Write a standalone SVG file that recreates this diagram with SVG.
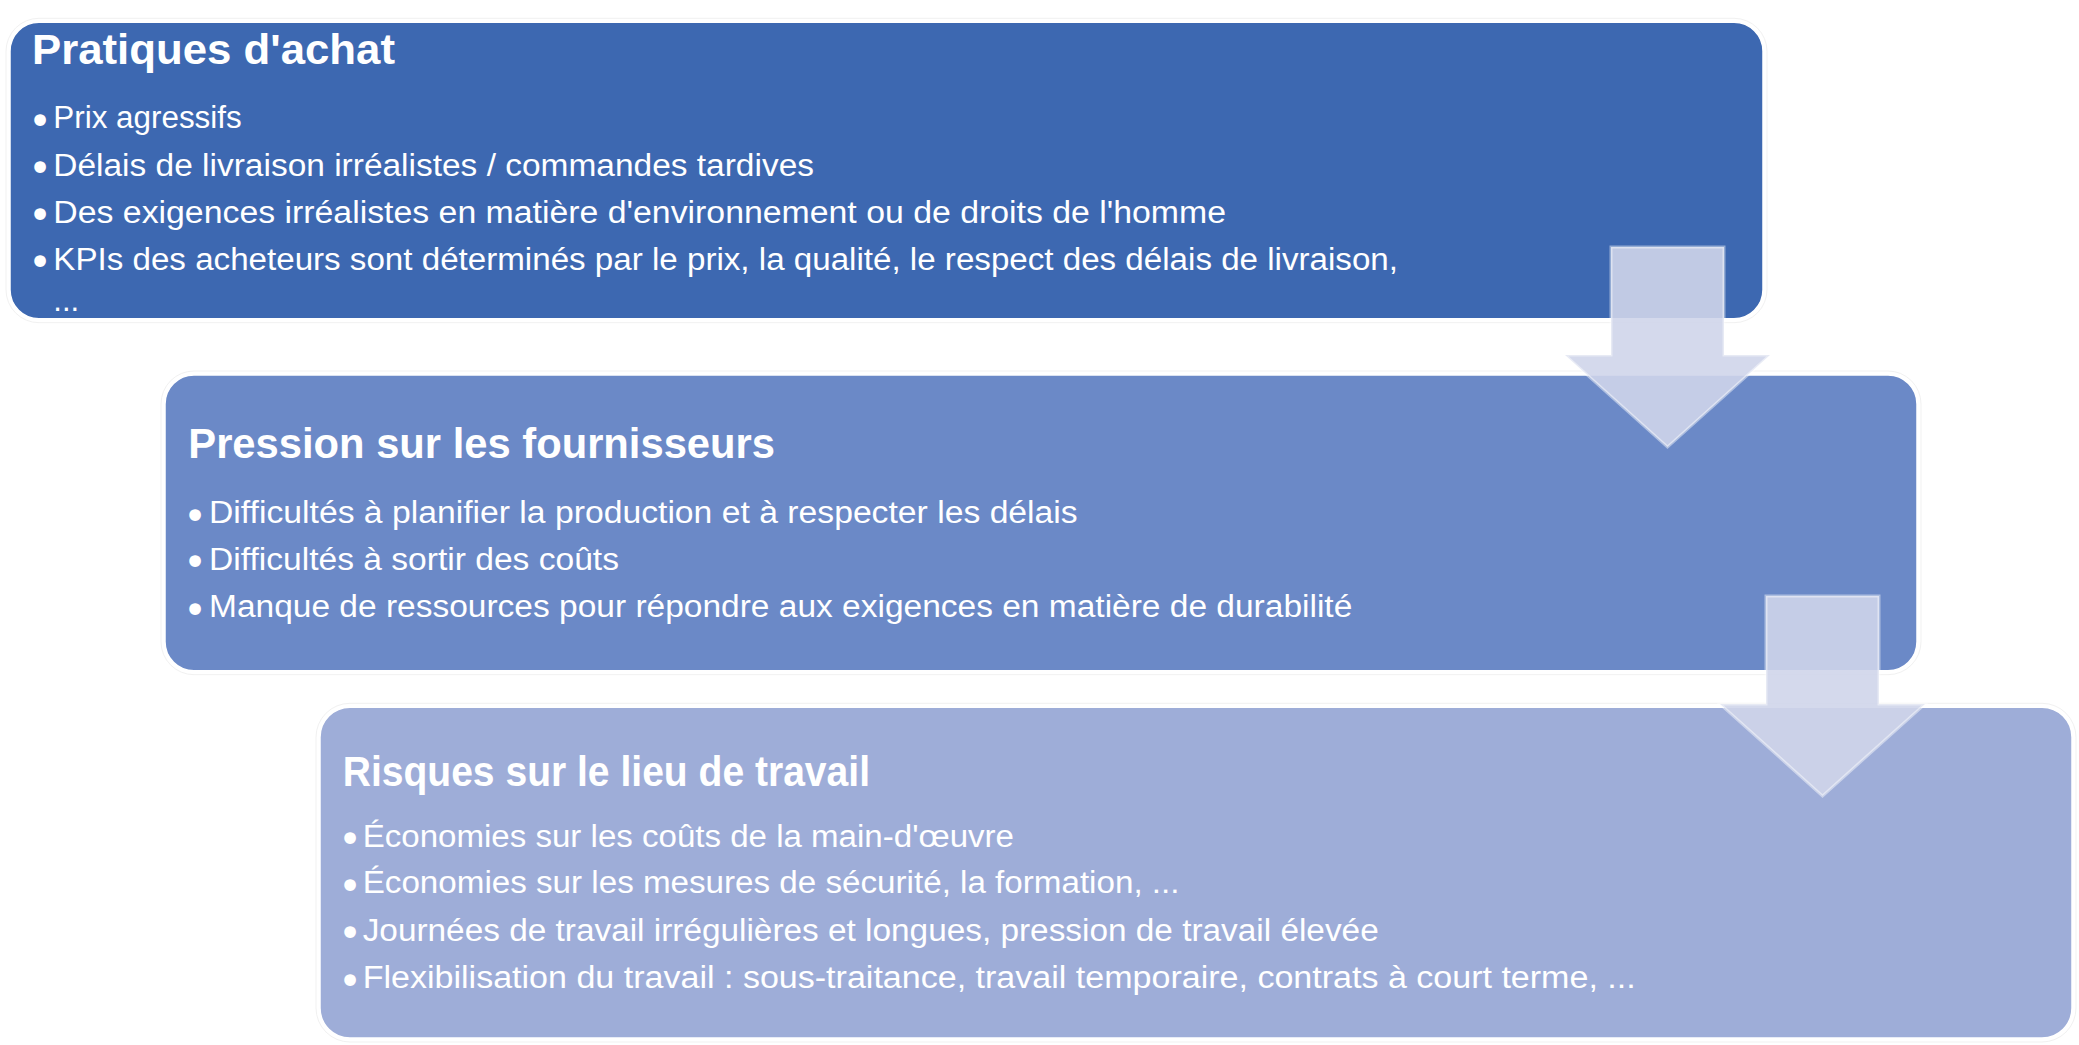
<svg xmlns="http://www.w3.org/2000/svg" width="2079" height="1045" viewBox="0 0 2079 1045">
<style>
.ring{fill:none;stroke:#f1f1f1;stroke-width:1}
.box{stroke:#ffffff;stroke-width:1.5}
.b1{fill:#3D68B1}
.b2{fill:#6B89C7}
.b3{fill:#9EADD8}
.title{font-family:"Liberation Sans",Arial,sans-serif;font-weight:bold;font-size:43px;fill:#ffffff}
.item{font-family:"Liberation Sans",Arial,sans-serif;font-size:31px;fill:#ffffff}
.dot{font-family:"DejaVu Sans",sans-serif;font-size:40px;fill:#ffffff}
.arrow{fill:#CFD5EA;fill-opacity:0.9;stroke:#ffffff;stroke-opacity:0.45;stroke-width:3;stroke-linejoin:miter}
</style>
<defs>
<path id="arrowShape" d="M-56.5,0 H56.5 V108 H102.5 L0,200 L-102.5,108 H-56.5 Z"/>
</defs>
<rect width="2079" height="1045" fill="#ffffff"/>

<g id="node-pratiques">
<rect class="ring" x="6" y="18.3" width="1761" height="304.4" rx="33"/>
<rect class="box b1" x="10" y="22.3" width="1753" height="296.4" rx="29"/>
<text class="title" x="32" y="64.3" textLength="363" lengthAdjust="spacingAndGlyphs">Pratiques d'achat</text>
<text class="dot" x="28.2" y="134.7">•</text>
<text class="item" x="53.3" y="128.3" textLength="188.4" lengthAdjust="spacingAndGlyphs">Prix agressifs</text>
<text class="dot" x="28.2" y="182.4">•</text>
<text class="item" x="53.3" y="176" textLength="760.7" lengthAdjust="spacingAndGlyphs">Délais de livraison irréalistes / commandes tardives</text>
<text class="dot" x="28.2" y="229.1">•</text>
<text class="item" x="53.3" y="222.7" textLength="1172.7" lengthAdjust="spacingAndGlyphs">Des exigences irréalistes en matière d'environnement ou de droits de l'homme</text>
<text class="dot" x="28.2" y="276.4">•</text>
<text class="item" x="53.3" y="270" textLength="1344.7" lengthAdjust="spacingAndGlyphs">KPIs des acheteurs sont déterminés par le prix, la qualité, le respect des délais de livraison,</text>
<text class="item" x="53.3" y="311">...</text>
</g>

<g id="node-pression">
<rect class="ring" x="161" y="371" width="1760" height="303.7" rx="33"/>
<rect class="box b2" x="165" y="375" width="1752" height="295.7" rx="29"/>
<text class="title" x="188.3" y="458.3" textLength="586.7" lengthAdjust="spacingAndGlyphs">Pression sur les fournisseurs</text>
<text class="dot" x="183.2" y="529.7">•</text>
<text class="item" x="209" y="523.3" textLength="868.7" lengthAdjust="spacingAndGlyphs">Difficultés à planifier la production et à respecter les délais</text>
<text class="dot" x="183.2" y="576.4">•</text>
<text class="item" x="209" y="570" textLength="410" lengthAdjust="spacingAndGlyphs">Difficultés à sortir des coûts</text>
<text class="dot" x="183.2" y="623.7">•</text>
<text class="item" x="209" y="617.3" textLength="1143.3" lengthAdjust="spacingAndGlyphs">Manque de ressources pour répondre aux exigences en matière de durabilité</text>
</g>

<g id="node-risques">
<rect class="ring" x="316" y="703.3" width="1760" height="338.7" rx="34"/>
<rect class="box b3" x="320" y="707.3" width="1752" height="330.7" rx="30"/>
<text class="title" x="342.7" y="786" textLength="527.3" lengthAdjust="spacingAndGlyphs">Risques sur le lieu de travail</text>
<text class="dot" x="338.2" y="853.1">•</text>
<text class="item" x="362.7" y="846.7" textLength="651.3" lengthAdjust="spacingAndGlyphs">Économies sur les coûts de la main-d'œuvre</text>
<text class="dot" x="338.2" y="899.7">•</text>
<text class="item" x="362.7" y="893.3" textLength="816.8" lengthAdjust="spacingAndGlyphs">Économies sur les mesures de sécurité, la formation, ...</text>
<text class="dot" x="338.2" y="947.1">•</text>
<text class="item" x="362.7" y="940.7" textLength="1016" lengthAdjust="spacingAndGlyphs">Journées de travail irrégulières et longues, pression de travail élevée</text>
<text class="dot" x="338.2" y="994.7">•</text>
<text class="item" x="362.7" y="988.3" textLength="1273" lengthAdjust="spacingAndGlyphs">Flexibilisation du travail : sous-traitance, travail temporaire, contrats à court terme, ...</text>
</g>

<g id="connectors">
<use href="#arrowShape" class="arrow" transform="translate(1667.5,247)" id="arrow-1"/>
<use href="#arrowShape" class="arrow" transform="translate(1822.5,596)" id="arrow-2"/>
</g>
</svg>
